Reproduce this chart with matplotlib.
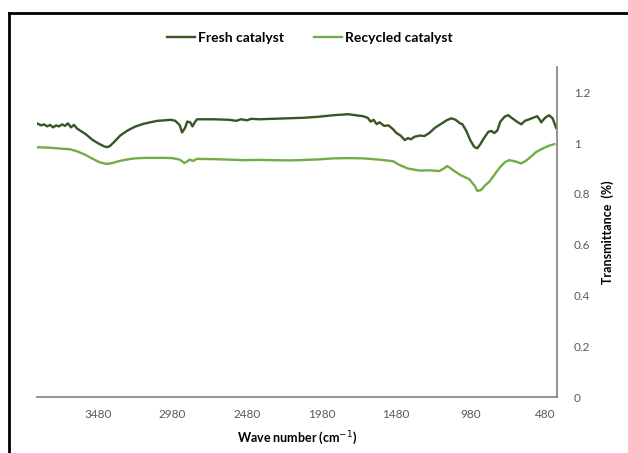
import matplotlib.pyplot as plt
from matplotlib.lines import Line2D

plt.rcParams['font.family'] = ['Lato', 'DejaVu Sans']

# wave numbers (cm-1) and transmittance
fresh_wn = [3889, 3860, 3840, 3820, 3800, 3780, 3760, 3740, 3720, 3700, 3680, 3660,
            3640, 3620, 3600, 3560, 3520, 3480, 3440, 3420, 3400, 3370, 3330, 3280,
            3230, 3180, 3130, 3080, 3031, 2990, 2960, 2930, 2915, 2895, 2880, 2860,
            2845, 2830, 2815, 2700, 2600, 2550, 2520, 2480, 2450, 2400, 2300, 2200,
            2100, 2000, 1900, 1800, 1750, 1700, 1670, 1650, 1630, 1610, 1590, 1560,
            1530, 1500, 1477, 1450, 1420, 1400, 1380, 1357, 1320, 1290, 1256, 1220,
            1180, 1140, 1109, 1080, 1050, 1035, 1010, 980, 955, 935, 915, 890, 860,
            841, 820, 800, 780, 750, 727, 700, 670, 640, 615, 586, 560, 533, 515, 506,
            480, 453, 430, 415, 406]
fresh_t = [1.078, 1.070, 1.074, 1.066, 1.072, 1.062, 1.070, 1.066, 1.074, 1.068, 1.078, 1.062,
           1.072, 1.058, 1.050, 1.035, 1.015, 1.000, 0.988, 0.984, 0.988, 1.005, 1.030, 1.050,
           1.065, 1.075, 1.082, 1.088, 1.090, 1.092, 1.088, 1.070, 1.042, 1.060, 1.085, 1.082,
           1.066, 1.082, 1.094, 1.094, 1.092, 1.088, 1.094, 1.090, 1.096, 1.094, 1.096, 1.098,
           1.100, 1.104, 1.110, 1.114, 1.110, 1.106, 1.100, 1.085, 1.092, 1.075, 1.082, 1.068,
           1.070, 1.055, 1.040, 1.030, 1.012, 1.020, 1.015, 1.025, 1.030, 1.028, 1.040, 1.060,
           1.075, 1.090, 1.098, 1.092, 1.078, 1.075, 1.050, 1.010, 0.985, 0.980, 0.995, 1.020, 1.045,
           1.048, 1.040, 1.050, 1.085, 1.105, 1.110, 1.098, 1.085, 1.074, 1.088, 1.094, 1.100, 1.106, 1.092, 1.082,
           1.100, 1.110, 1.098, 1.075, 1.060]

recycled_wn = [3889, 3800, 3720, 3668, 3620, 3567, 3520, 3470, 3420, 3380, 3333, 3280,
               3232, 3165, 3031, 2978, 2930, 2900, 2885, 2864, 2840, 2817, 2700, 2596,
               2500, 2400, 2300, 2200, 2127, 2000, 1900, 1792, 1700, 1591, 1500, 1460,
               1400, 1323, 1256, 1189, 1160, 1136, 1100, 1050, 988, 950, 935, 910, 880,
               854, 820, 787, 750, 720, 680, 640, 610, 586, 540, 486, 453, 419]
recycled_t = [0.984, 0.982, 0.978, 0.976, 0.968, 0.955, 0.940, 0.925, 0.918, 0.922, 0.930, 0.936,
              0.940, 0.942, 0.942, 0.941, 0.935, 0.922, 0.926, 0.935, 0.930, 0.938, 0.937, 0.935,
              0.933, 0.934, 0.933, 0.932, 0.933, 0.936, 0.940, 0.941, 0.940, 0.935, 0.929, 0.915,
              0.900, 0.892, 0.893, 0.890, 0.900, 0.910, 0.895, 0.875, 0.858, 0.830, 0.812, 0.815, 0.835,
              0.848, 0.875, 0.902, 0.925, 0.933, 0.928, 0.920, 0.930, 0.941, 0.965, 0.982, 0.990, 0.996]

x_ticks = [3480, 2980, 2480, 1980, 1480, 980, 480]
y_ticks = [0, 0.2, 0.4, 0.6, 0.8, 1, 1.2]
y_labels = ['0', '0.2', '0.4', '0.6', '0.8', '1', '1.2']

fig = plt.figure(figsize=(6.28, 4.53), dpi=100)
ax = fig.add_axes([37/628, 56/453, 520/628, 330/453])

ax.plot(fresh_wn, fresh_t, color='#375623', lw=1.7, label='Fresh catalyst')
ax.plot(recycled_wn, recycled_t, color='#70AD47', lw=1.7, label='Recycled catalyst')

ax.set_xlim(3888, 400)
ax.set_ylim(0, 1.3)
ax.set_xticks(x_ticks)
ax.set_yticks(y_ticks)
ax.set_yticklabels(y_labels)
ax.yaxis.tick_right()
ax.yaxis.set_label_position('right')
ax.tick_params(axis='both', length=0, labelsize=8.5, labelcolor='#595959')
ax.tick_params(axis='y', pad=12)
ax.tick_params(axis='x', pad=9)

for s in ['left', 'top']:
    ax.spines[s].set_visible(False)
for s in ['bottom', 'right']:
    ax.spines[s].set_color('#808080')
    ax.spines[s].set_linewidth(1.2)

ax.set_xlabel('Wave number (cm$^{-1}$)', fontsize=9, fontweight='bold', labelpad=6)
ax.set_ylabel('Transmittance  (%)', fontsize=9, fontweight='bold', labelpad=8)

fig.legend(loc='center', bbox_to_anchor=(310/628, 1 - 38/453), ncol=2, frameon=False,
           prop={'size': 10, 'weight': 'bold'}, handlelength=2.0, columnspacing=2.2,
           handletextpad=0.2)

# chart border (only top and left edges are inside the picture)
fig.add_artist(Line2D([9/628, 1], [1 - 13/453, 1 - 13/453], color='black', lw=2))
fig.add_artist(Line2D([9/628, 9/628], [0, 1 - 13/453], color='black', lw=2))

fig.savefig('out.png', dpi=100)
